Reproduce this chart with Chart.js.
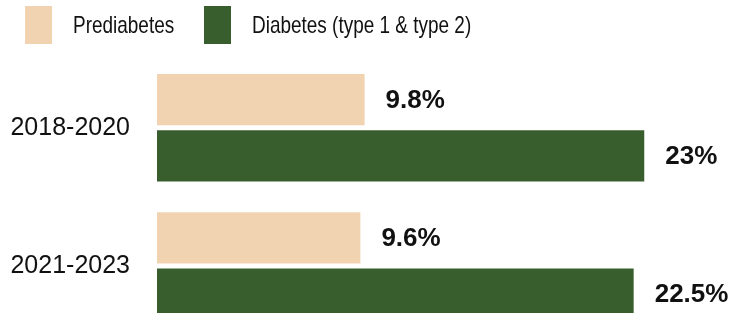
<!DOCTYPE html>
<html>
<head>
<meta charset="utf-8">
<script src="https://cdn.jsdelivr.net/npm/chart.js@4"></script>
<style>
  html, body { margin: 0; padding: 0; background: #fff; }
  #wrap { position: relative; width: 729px; height: 313px; overflow: hidden; }
  #grafico { position: absolute; left: 0; top: 0; }
  .leyenda { position: absolute; top: 0; left: 0; width: 729px; height: 50px; font-family: "Liberation Sans", Arial, sans-serif; font-size: 24px; color: #111; white-space: nowrap; }
  .item { position: absolute; top: 6px; height: 38px; display: flex; align-items: center; }
  .cuadro { width: 27px; height: 38px; margin-right: 21px; flex: none; }
  .item span { display: inline-block; transform: scaleX(0.79); transform-origin: left center; }
</style>
</head>
<body>
<div id="wrap">
  <canvas id="grafico" width="729" height="377"></canvas>
  <div class="leyenda" id="leyenda"></div>
</div>
<script>
// ===============================
// DATOS
// ===============================
const periodos = ["2018-2020", "2021-2023"];
const prediabetes = [9.8, 9.6];
const diabetes = [23, 22.5];
const etiquetas = ["9.8%", "9.6%"];
const etiquetasDiabetes = ["23%", "22.5%"];
const nombres = ["Prediabetes", "Diabetes (type 1 & type 2)"];
const colores = ["#F2D3B1", "#395E2E"];

// ===============================
// LEYENDA
// ===============================
const leyenda = document.getElementById("leyenda");
const posLeyenda = [25, 204];
nombres.forEach((n, i) => {
  const item = document.createElement("div");
  item.className = "item";
  item.style.left = posLeyenda[i] + "px";
  item.innerHTML = `<div class="cuadro" style="background:${colores[i]}"></div><span>${n}</span>`;
  leyenda.appendChild(item);
});

// ===============================
// ETIQUETAS DE VALOR
// ===============================
const textos = [etiquetas, etiquetasDiabetes];
const valoresPlugin = {
  id: "valores",
  afterDatasetsDraw(chart) {
    const ctx = chart.ctx;
    ctx.save();
    ctx.font = "bold 26px 'Liberation Sans', Arial, sans-serif";
    ctx.fillStyle = "#111";
    ctx.textBaseline = "middle";
    ctx.textAlign = "left";
    chart.data.datasets.forEach((ds, i) => {
      chart.getDatasetMeta(i).data.forEach((bar, j) => {
        ctx.fillText(textos[i][j], bar.x + 21, bar.y + 1);
      });
    });
    ctx.restore();
  }
};

// ===============================
// GRAFICO
// ===============================
new Chart(document.getElementById("grafico"), {
  type: "bar",
  data: {
    labels: periodos,
    datasets: [
      { label: nombres[0], data: prediabetes, backgroundColor: colores[0] },
      { label: nombres[1], data: diabetes, backgroundColor: colores[1] }
    ]
  },
  options: {
    indexAxis: "y",
    responsive: false,
    animation: false,
    categoryPercentage: 0.815,
    barPercentage: 0.91,
    layout: { padding: { top: 58.75, bottom: 0, left: 0, right: 0 } },
    plugins: { legend: { display: false }, tooltip: { enabled: false } },
    scales: {
      x: { display: false, min: 0, max: 27 },
      y: {
        grid: { display: false, drawTicks: false },
        border: { display: false },
        ticks: {
          padding: 27,
          color: "#111",
          font: { family: "'Liberation Sans', Arial, sans-serif", size: 25 }
        },
        afterFit(scale) { scale.width = 157; }
      }
    }
  },
  plugins: [valoresPlugin]
});
</script>
</body>
</html>
